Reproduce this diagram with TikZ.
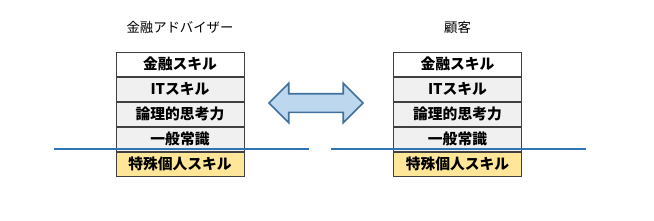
\documentclass[tikz,border=0pt]{standalone}
\usepackage{fontspec}
\newfontfamily\jpfont{Noto Sans CJK JP}
\newfontfamily\jpbold{Noto Sans CJK JP Black}
\usepackage{tikz}
\usetikzlibrary{positioning, shapes.arrows}
\definecolor{Mibarra}{RGB}{46,117,182}
\definecolor{Miflecha}{RGB}{189,215,238}
\definecolor{Miborde}{RGB}{65,113,156}
\definecolor{Migris}{RGB}{240,240,240}
\definecolor{Miamarillo}{RGB}{255,230,153}

\begin{document}
\begin{tikzpicture}[
  x=0.025cm, y=-0.025cm,
  cell/.style={
    rectangle, draw=black!75, line width=0.6pt,
    minimum width=3.2cm, minimum height=0.605cm,
    inner sep=0pt, font=\jpbold\fontsize{10.5}{12}\selectfont
  },
  title/.style={
    font=\jpfont\fontsize{9.5}{11}\selectfont, inner sep=0pt
  },
  cut/.style={
    line width=1.4pt, color=Mibarra
  },
  xchg/.style={
    double arrow, draw=Miborde, fill=Miflecha, line width=1.1pt,
    minimum height=2.35cm, inner xsep=0pt, inner ysep=0.2125cm,
    double arrow head extend=0.2625cm
  }
]
\useasboundingbox (0,0) rectangle (654,220);

%% ── Columna izquierda ────────────────────────────────────────────────────
\node[title] (advT) at (180, 27) {金融アドバイザー};
\node[cell, fill=white] (adv1) at (180, 64.1) {金融スキル};
\node[cell, fill=Migris,     below=0pt of adv1] (adv2) {ITスキル};
\node[cell, fill=Migris,     below=0pt of adv2] (adv3) {論理的思考力};
\node[cell, fill=Migris,     below=0pt of adv3] (adv4) {一般常識};
\node[cell, fill=Miamarillo, below=0pt of adv4] (adv5) {特殊個人スキル};

%% ── Columna derecha ──────────────────────────────────────────────────────
\node[title] (cliT) at (457.5, 27) {顧客};
\node[cell, fill=white] (cli1) at (457.5, 64.1) {金融スキル};
\node[cell, fill=Migris,     below=0pt of cli1] (cli2) {ITスキル};
\node[cell, fill=Migris,     below=0pt of cli2] (cli3) {論理的思考力};
\node[cell, fill=Migris,     below=0pt of cli3] (cli4) {一般常識};
\node[cell, fill=Miamarillo, below=0pt of cli4] (cli5) {特殊個人スキル};

%% ── Flecha doble ─────────────────────────────────────────────────────────
\node[xchg] (link) at (316, 103) {};

%% ── Líneas de corte ──────────────────────────────────────────────────────
\coordinate (cutA) at (54, 148.7);
\coordinate (cutB) at (309, 148.7);
\coordinate (cutC) at (331, 148.7);
\coordinate (cutD) at (586, 148.7);
\draw[cut] (cutA) -- (cutB);
\draw[cut] (cutC) -- (cutD);

\end{tikzpicture}
\end{document}
